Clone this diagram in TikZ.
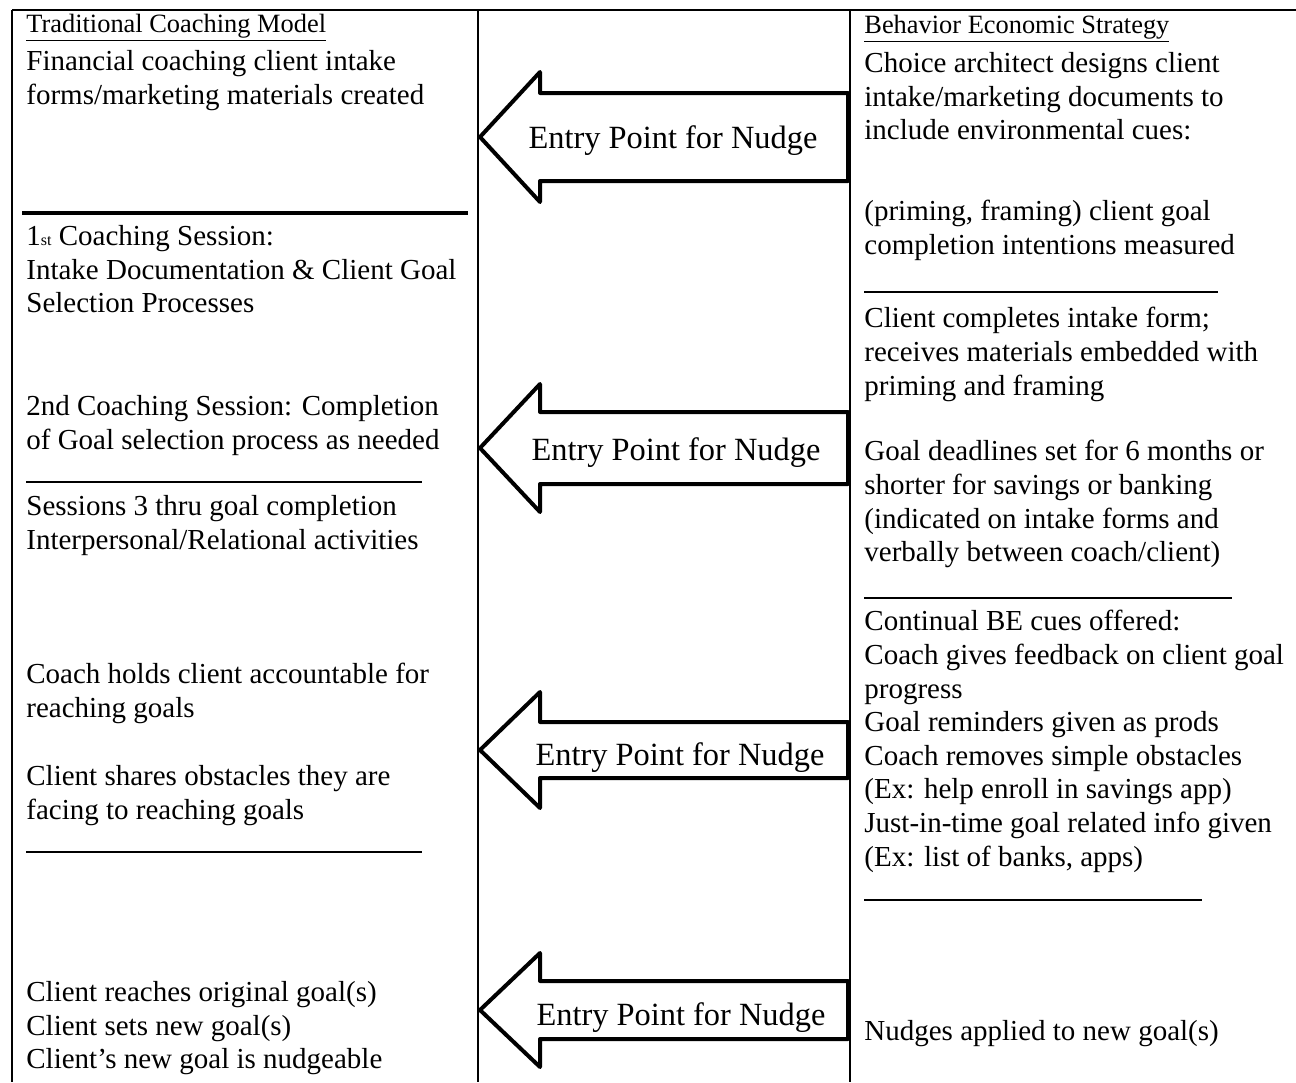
\documentclass[tikz,border=0pt]{standalone}
\usepackage{fontspec}
\setmainfont{Liberation Serif}
\newcommand{\bodysize}{\fontsize{14.5}{16.8}\selectfont}
\newcommand{\headsize}{\fontsize{13.2}{15}\selectfont}
\newcommand{\entrysize}{\fontsize{16.2}{18}\selectfont}
\begin{document}
\begin{tikzpicture}
	[
	x=0.5pt, y=-0.5pt, >=latex,
	%Voreinstellungen fuer Text und Linien
	body/.style={anchor=north west, inner sep=0pt, align=left, font=\bodysize},
	head/.style={anchor=base west, inner sep=0pt, font=\headsize},
	frame/.style={line width=1pt},
	rule/.style={line width=0.7pt},
	nudge/.style={line width=2pt, line join=round},
	entry/.style={inner sep=0pt, font=\entrysize}
	]
	\useasboundingbox (0,0) rectangle (1296,1082);

	%Rahmen und Spalten
	\draw [frame] (12,10) -- (1296,10);
	\foreach \x in {12,478,850}
	\draw [frame] (\x,10) -- (\x,1082);
	\draw [line width=2pt] (22,213) -- (468,213);

	%Trennlinien
	\draw [rule] (26,482) -- (422,482);
	\draw [rule] (26,852) -- (422,852);
	\draw [rule] (864,292) -- (1218,292);
	\draw [rule] (864,598) -- (1232,598);
	\draw [rule] (864,900) -- (1202,900);

	%Linke Spalte
	\node [head] (tradhead) at (26,32) {\underline{Traditional Coaching Model}};
	\node [body] (intake) at (26,50) {Financial coaching client intake\\forms/marketing materials created};
	\node [body] (first) at (26,225) {1{\fontsize{8}{8}\selectfont st} Coaching Session:\\Intake Documentation \& Client Goal\\Selection Processes};
	\node [body] (second) at (26,395) {2nd Coaching Session: Completion\\of Goal selection process as needed};
	\node [body] (sessions) at (26,495) {Sessions 3 thru goal completion\\Interpersonal/Relational activities};
	\node [body] (holds) at (26,663) {Coach holds client accountable for\\reaching goals};
	\node [body] (shares) at (26,765) {Client shares obstacles they are\\facing to reaching goals};
	\node [body] (reaches) at (26,981) {Client reaches original goal(s)\\Client sets new goal(s)\\Client’s new goal is nudgeable};

	%Rechte Spalte
	\node [head] (behavhead) at (864,33) {\underline{Behavior Economic Strategy}};
	\node [body] (architect) at (864,52) {Choice architect designs client\\intake/marketing documents to\\include environmental cues:};
	\node [body] (priming) at (864,200) {(priming, framing) client goal\\completion intentions measured};
	\node [body] (completes) at (864,307) {Client completes intake form;\\receives materials embedded with\\priming and framing};
	\node [body] (deadlines) at (864,440) {Goal deadlines set for 6 months or\\shorter for savings or banking\\(indicated on intake forms and\\verbally between coach/client)};
	\node [body] (cues) at (864,610) {Continual BE cues offered:\\Coach gives feedback on client goal\\progress\\Goal reminders given as prods\\Coach removes simple obstacles\\(Ex: help enroll in savings app)\\Just-in-time goal related info given\\(Ex: list of banks, apps)};
	\node [body] (applied) at (864,1020) {Nudges applied to new goal(s)};

	%Pfeile (Entry Points)
	\foreach \ty/\hh/\sh/\tx/\dy [count=\i] in {137/65/44/673/4, 448/64/36/676/5, 750/58/28/680/8, 1010/57/29/681/8}
	{
	\draw [nudge] (480,\ty) -- (540,\ty-\hh) -- (540,\ty-\sh) -- (848,\ty-\sh) -- (848,\ty+\sh) -- (540,\ty+\sh) -- (540,\ty+\hh) -- cycle;
	\node [entry] (entry\i) at (\tx,\ty+\dy) {Entry Point for Nudge};
	}
\end{tikzpicture}
\end{document}
